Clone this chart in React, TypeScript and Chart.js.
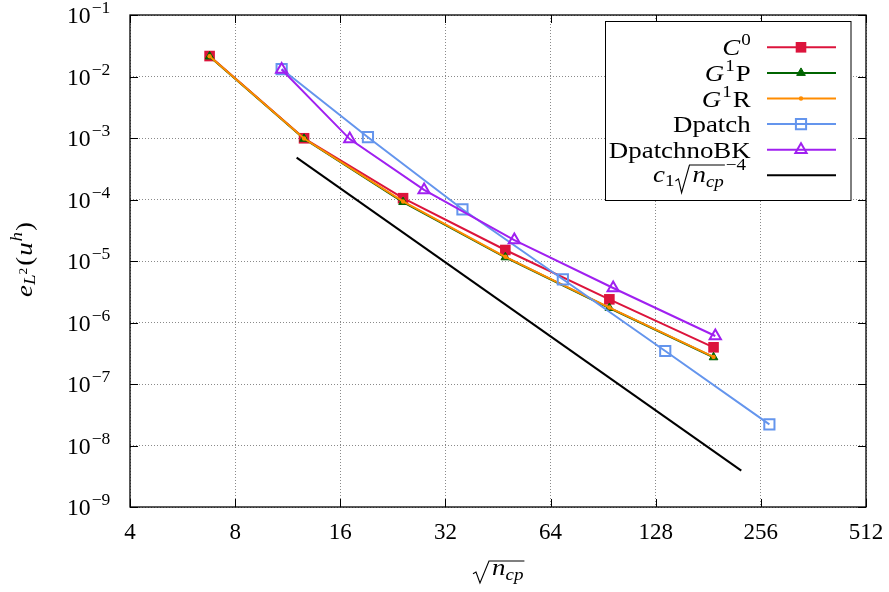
import React, { useEffect, useRef } from 'react';
import { Chart, registerables } from 'chart.js';

Chart.register(...registerables);

// ---- data ----
const xTicks = [4, 8, 16, 32, 64, 128, 256, 512];
const yTicks = [1e-9, 1e-8, 1e-7, 1e-6, 1e-5, 1e-4, 1e-3, 1e-2, 1e-1];

const c0X = [6.76, 12.6, 24.2, 47.5, 94.3, 187.4];
const c0Y = [2.15e-2, 9.9e-4, 1.05e-4, 1.51e-5, 2.38e-6, 3.95e-7];

const g1pX = [6.76, 12.6, 24.2, 47.5, 94.3, 187.4];
const g1pY = [2.12e-2, 9.7e-4, 9.1e-5, 1.15e-5, 1.72e-6, 2.72e-7];

const g1rX = [6.76, 12.6, 24.2, 47.5, 94.3, 187.4];
const g1rY = [2.13e-2, 9.8e-4, 9.3e-5, 1.17e-5, 1.75e-6, 2.76e-7];

const dpatchX = [10.87, 19.2, 35.8, 69.4, 136.3, 270.8];
const dpatchY = [1.32e-2, 1.03e-3, 6.93e-5, 5.04e-6, 3.44e-7, 2.21e-8];

const dpnbkX = [10.87, 17.03, 27.8, 50.4, 96.7, 189.6];
const dpnbkY = [1.3e-2, 9.6e-4, 1.43e-4, 2.19e-5, 3.64e-6, 6.03e-7];

const refX = [12.0, 225];
const refY = [4.8e-4, 3.9e-9];

const COL = {
  c0: '#DC143C',
  g1p: '#006400',
  g1r: '#FF8C00',
  dp: '#6495ED',
  dpn: '#A020F0',
  ref: '#000000',
};

const FONT = '"Liberation Serif", "Times New Roman", serif';
const font = (size: number, it?: boolean) => `${it ? 'italic ' : ''}${size}px ${FONT}`;

type Seg = { t?: string; it?: boolean; s?: number; dy?: number; dx?: number; rad?: 'open' | 'close' };
type RadOpt = { rw: number; up: number; down: number };

function richWidth(ctx: CanvasRenderingContext2D, segs: Seg[], base: number, sx = 1, rad: RadOpt = { rw: 18, up: 14, down: 8 }) {
  let w = 0;
  for (const sg of segs) {
    if (sg.rad === 'open') { w += rad.rw; continue; }
    if (sg.rad === 'close') { w += 1; continue; }
    ctx.font = font(sg.s ?? base, sg.it);
    w += ctx.measureText(sg.t || '').width * sx + (sg.dx ?? 0);
  }
  return w;
}

function drawRich(ctx: CanvasRenderingContext2D, segs: Seg[], x: number, y: number, base: number, sx = 1, rad: RadOpt = { rw: 18, up: 14, down: 8 }) {
  let cx = x;
  let rx = 0;
  ctx.fillStyle = '#000';
  ctx.textAlign = 'left';
  ctx.textBaseline = 'alphabetic';
  for (const sg of segs) {
    if (sg.rad === 'open') { rx = cx; cx += rad.rw; continue; }
    if (sg.rad === 'close') {
      const H = rad.up + rad.down;
      ctx.save();
      ctx.beginPath();
      ctx.moveTo(rx + 1, y + rad.down - 0.42 * H);
      ctx.lineTo(rx + 4, y + rad.down - 0.5 * H);
      ctx.lineTo(rx + 0.42 * rad.rw, y + rad.down);
      ctx.lineTo(rx + rad.rw - 2, y - rad.up);
      ctx.lineTo(cx + 1, y - rad.up);
      ctx.lineWidth = 1.1;
      ctx.strokeStyle = '#000';
      ctx.stroke();
      ctx.restore();
      cx += 1;
      continue;
    }
    ctx.font = font(sg.s ?? base, sg.it);
    cx += sg.dx ?? 0;
    ctx.save();
    ctx.translate(cx, y + (sg.dy ?? 0));
    ctx.scale(sx, 1);
    ctx.fillText(sg.t || '', 0, 0);
    ctx.restore();
    cx += ctx.measureText(sg.t || '').width * sx;
  }
}

function drawMarker(ctx: CanvasRenderingContext2D, style: string, x: number, y: number, r: number, fill: string, stroke: string, bw: number) {
  ctx.save();
  ctx.beginPath();
  if (style === 'rect') {
    const s = Math.SQRT1_2 * r;
    ctx.rect(x - s, y - s, 2 * s, 2 * s);
  } else if (style === 'triangle') {
    let rad = 0;
    ctx.moveTo(x + Math.sin(rad) * r, y - Math.cos(rad) * r);
    rad += (2 * Math.PI) / 3;
    ctx.lineTo(x + Math.sin(rad) * r, y - Math.cos(rad) * r);
    rad += (2 * Math.PI) / 3;
    ctx.lineTo(x + Math.sin(rad) * r, y - Math.cos(rad) * r);
    ctx.closePath();
  } else if (style === 'circle') {
    ctx.arc(x, y, r, 0, Math.PI * 2);
  }
  if (fill !== 'none') { ctx.fillStyle = fill; ctx.fill(); }
  if (bw > 0) { ctx.lineWidth = bw; ctx.strokeStyle = stroke; ctx.stroke(); }
  ctx.restore();
}

const legendRows: { segs: Seg[]; color: string; style: string; r: number; fill: string; bw: number }[] = [
  { segs: [{ t: 'C', it: true }, { t: '0', s: 17, dy: -10, dx: 1 }], color: COL.c0, style: 'rect', r: 7.5, fill: COL.c0, bw: 0 },
  { segs: [{ t: 'G', it: true }, { t: '1', s: 17, dy: -10, dx: 1 }, { t: 'P', dx: 1 }], color: COL.g1p, style: 'triangle', r: 5, fill: COL.g1p, bw: 1 },
  { segs: [{ t: 'G', it: true }, { t: '1', s: 17, dy: -10, dx: 1 }, { t: 'R', dx: 1 }], color: COL.g1r, style: 'circle', r: 2.2, fill: COL.g1r, bw: 0 },
  { segs: [{ t: 'Dpatch' }], color: COL.dp, style: 'rect', r: 7.2, fill: 'none', bw: 2 },
  { segs: [{ t: 'DpatchnoBK' }], color: COL.dpn, style: 'triangle', r: 6.5, fill: 'none', bw: 2 },
];
const refLegendSegs: Seg[] = [
  { t: 'c', it: true },
  { t: '1', s: 17, dy: 4 },
  { rad: 'open' },
  { t: 'n', it: true, dx: 1 },
  { t: 'cp', it: true, s: 17, dy: 5 },
  { rad: 'close' },
  { t: '\u22124', s: 17, dy: -11.5, dx: 1 },
];

const decorPlugin = {
  id: 'decor',
  afterDatasetsDraw(chart: any) {
    const ctx: CanvasRenderingContext2D = chart.ctx;
    const { left, right, top, bottom } = chart.chartArea;
    const xs = chart.scales.x;
    const ys = chart.scales.y;
    ctx.save();

    // inner tick marks
    ctx.strokeStyle = '#000';
    ctx.lineWidth = 1;
    ctx.beginPath();
    for (const v of xTicks) {
      const px = Math.round(xs.getPixelForValue(v)) + 0.5;
      ctx.moveTo(px, bottom); ctx.lineTo(px, bottom - 8);
      ctx.moveTo(px, top); ctx.lineTo(px, top + 8);
    }
    for (const v of yTicks) {
      const py = Math.round(ys.getPixelForValue(v)) + 0.5;
      ctx.moveTo(left, py); ctx.lineTo(left + 8, py);
      ctx.moveTo(right, py); ctx.lineTo(right - 8, py);
    }
    ctx.stroke();

    // frame
    ctx.lineWidth = 1.3;
    ctx.strokeRect(left, top, right - left, bottom - top);

    // x tick labels
    ctx.fillStyle = '#000';
    ctx.font = font(23);
    ctx.textAlign = 'center';
    ctx.textBaseline = 'alphabetic';
    for (const v of xTicks) {
      ctx.fillText(String(v), xs.getPixelForValue(v), 539);
    }

    // y tick labels 10^{-n}
    for (const v of yTicks) {
      const py = ys.getPixelForValue(v);
      const e = Math.round(Math.log10(v));
      drawRich(ctx, [{ t: '10' }, { t: (e < 0 ? '\u2212' : '') + Math.abs(e), s: 17, dy: -10, dx: 1 }], 67, py + 8, 23, 1.03);
    }

    // x title sqrt(n_cp)
    drawRich(
      ctx,
      [{ rad: 'open' }, { t: 'n', it: true, dx: 1 }, { t: 'cp', it: true, s: 17, dy: 5 }, { rad: 'close' }],
      472, 575, 24, 1.12, { rw: 19, up: 14, down: 8 },
    );

    // y title e_{L^2}(u^h)
    ctx.save();
    const ySegs: Seg[] = [
      { t: 'e', it: true },
      { t: 'L', it: true, s: 17, dy: 3 },
      { t: '2', s: 12, dy: -5 },
      { t: '(', dx: 2 },
      { t: 'u', it: true, dx: 1 },
      { t: 'h', it: true, s: 17, dy: -10, dx: 1 },
      { t: ')', dx: 1 },
    ];
    const yw = richWidth(ctx, ySegs, 24, 1.12);
    ctx.translate(32, 259.5);
    ctx.rotate(-Math.PI / 2);
    drawRich(ctx, ySegs, -yw / 2, 0, 24, 1.12);
    ctx.restore();

    // legend
    const bx = 605.5, by = 21.5, bw = 245.5, bh = 179;
    ctx.fillStyle = '#fff';
    ctx.fillRect(bx, by, bw, bh);
    ctx.strokeStyle = '#000';
    ctx.lineWidth = 1;
    ctx.strokeRect(bx, by, bw, bh);
    const rowY = [47.3, 72.9, 98.5, 124.1, 149.7, 175.3];
    const drawSample = (cy: number, color: string) => {
      ctx.save();
      ctx.beginPath();
      ctx.moveTo(767, cy);
      ctx.lineTo(836, cy);
      ctx.lineWidth = 2;
      ctx.strokeStyle = color;
      ctx.stroke();
      ctx.restore();
    };
    legendRows.forEach((row, i) => {
      const cy = rowY[i];
      const w = richWidth(ctx, row.segs, 24, 1.12);
      drawRich(ctx, row.segs, 750.7 - w, cy + 8, 24, 1.12);
      drawSample(cy, row.color);
      drawMarker(ctx, row.style, 801, cy, row.r, row.fill, row.color, row.bw);
    });
    drawRich(ctx, refLegendSegs, 653, rowY[5] + 6.4, 24, 1.12, { rw: 17, up: 16.7, down: 11 });
    drawSample(rowY[5], COL.ref);

    ctx.restore();
  },
};

function toPts(xs: number[], ys: number[]) {
  return xs.map((x, i) => ({ x, y: ys[i] }));
}

export default function App() {
  const ref = useRef<HTMLCanvasElement | null>(null);
  useEffect(() => {
    if (!ref.current) return;
    const common = { borderWidth: 2, tension: 0, fill: false, showLine: true };
    const chart = new Chart(ref.current, {
      type: 'line',
      data: {
        datasets: [
          { ...common, label: 'C0', data: toPts(c0X, c0Y), borderColor: COL.c0, pointStyle: 'rect', pointRadius: 7.5, pointBackgroundColor: COL.c0, pointBorderColor: COL.c0, pointBorderWidth: 0, order: 6 },
          { ...common, label: 'G1P', data: toPts(g1pX, g1pY), borderColor: COL.g1p, pointStyle: 'triangle', pointRadius: 5, pointBackgroundColor: COL.g1p, pointBorderColor: COL.g1p, pointBorderWidth: 1, order: 5 },
          { ...common, label: 'G1R', data: toPts(g1rX, g1rY), borderColor: COL.g1r, pointStyle: 'circle', pointRadius: 2.2, pointBackgroundColor: COL.g1r, pointBorderColor: COL.g1r, pointBorderWidth: 0, order: 4 },
          { ...common, label: 'Dpatch', data: toPts(dpatchX, dpatchY), borderColor: COL.dp, pointStyle: 'rect', pointRadius: 7.2, pointBackgroundColor: 'rgba(0,0,0,0)', pointBorderColor: COL.dp, pointBorderWidth: 2, order: 3 },
          { ...common, label: 'DpatchnoBK', data: toPts(dpnbkX, dpnbkY), borderColor: COL.dpn, pointStyle: 'triangle', pointRadius: 6.5, pointBackgroundColor: 'rgba(0,0,0,0)', pointBorderColor: COL.dpn, pointBorderWidth: 2, order: 2 },
          { ...common, label: 'ref', data: toPts(refX, refY), borderColor: COL.ref, pointRadius: 0, order: 1 },
        ] as any,
      },
      options: {
        animation: false,
        responsive: false,
        maintainAspectRatio: false,
        layout: { padding: { left: 0, top: 15, right: 23, bottom: 0 } },
        plugins: { legend: { display: false }, tooltip: { enabled: false } },
        scales: {
          x: {
            type: 'logarithmic',
            min: 4,
            max: 512,
            afterBuildTicks: (s: any) => { s.ticks = xTicks.map((v) => ({ value: v })); },
            afterFit: (s: any) => { s.height = 85; },
            ticks: { display: false },
            grid: { color: '#8a8a8a', lineWidth: 1, drawTicks: false },
            border: { display: false, dash: [1, 2] },
          },
          y: {
            type: 'logarithmic',
            min: 1e-9,
            max: 1e-1,
            afterBuildTicks: (s: any) => { s.ticks = yTicks.map((v) => ({ value: v })); },
            afterFit: (s: any) => { s.width = 130; },
            ticks: { display: false },
            grid: { color: '#8a8a8a', lineWidth: 1, drawTicks: false },
            border: { display: false, dash: [1, 2] },
          },
        },
      } as any,
      plugins: [decorPlugin],
    });
    return () => chart.destroy();
  }, []);
  return (
    <div style={{ position: 'absolute', left: 0, top: 0, width: 889, height: 592, background: '#fff' }}>
      <canvas ref={ref} width={889} height={592} style={{ display: 'block' }} />
    </div>
  );
}
